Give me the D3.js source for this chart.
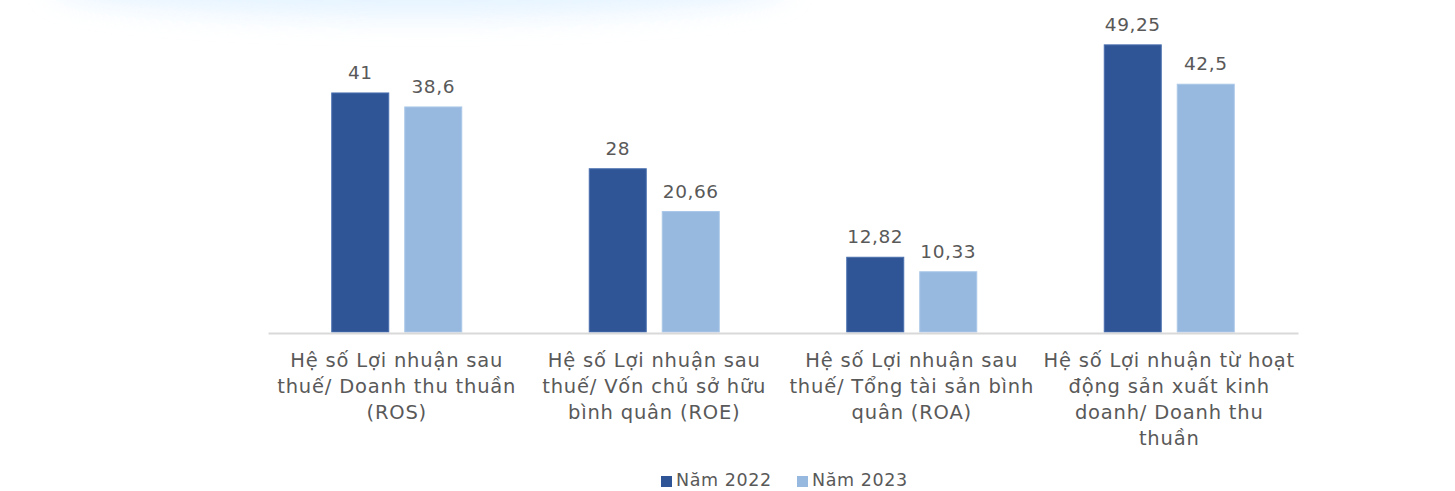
<!DOCTYPE html>
<html>
<head>
<meta charset="utf-8">
<script src="https://cdn.jsdelivr.net/npm/d3@7"></script>
<style>
  html, body { margin: 0; padding: 0; background: #fff; }
  svg { display: block; font-family: "DejaVu Sans", "Noto Sans", sans-serif; }
</style>
</head>
<body>
<svg id="chart" width="1455" height="491"></svg>
<script>
// Financial ratios (%), two reporting years
const categories = [
  ["Hệ số Lợi nhuận sau", "thuế/ Doanh thu thuần", "(ROS)"],
  ["Hệ số Lợi nhuận sau", "thuế/ Vốn chủ sở hữu", "bình quân (ROE)"],
  ["Hệ số Lợi nhuận sau", "thuế/ Tổng tài sản bình", "quân (ROA)"],
  ["Hệ số Lợi nhuận từ hoạt", "động sản xuất kinh", "doanh/ Doanh thu", "thuần"]
];
const seriesNames = ["Năm 2022", "Năm 2023"];
const values2022 = [41, 28, 12.82, 49.25];
const values2023 = [38.6, 20.66, 10.33, 42.5];
const valueLabels2022 = ["41", "28", "12,82", "49,25"];
const valueLabels2023 = ["38,6", "20,66", "10,33", "42,5"];
const colors = ["#2F5597", "#97B9E0"];

const svg = d3.select("#chart");
const textColor = "#595959";

// soft glow band across the top
const defs = svg.append("defs");
const blur = defs.append("filter").attr("id", "glow")
  .attr("x", "-20%").attr("y", "-200%").attr("width", "140%").attr("height", "500%");
blur.append("feGaussianBlur").attr("stdDeviation", 14);
svg.append("ellipse")
  .attr("cx", 420).attr("cy", -14).attr("rx", 370).attr("ry", 30)
  .attr("fill", "#dcefff").attr("opacity", 0.75)
  .attr("filter", "url(#glow)");

const plot = { left: 268, right: 1298, base: 332 };

const x0 = d3.scaleBand()
  .domain(d3.range(categories.length))
  .range([plot.left, plot.right]);

const barW = 57, gap = 16;
const y = d3.scaleLinear().domain([0, 50]).range([plot.base, 40.5]);

const series = [values2022, values2023];
const labels = [valueLabels2022, valueLabels2023];

const groups = svg.append("g").selectAll("g")
  .data(categories)
  .join("g")
  .attr("transform", (d, i) => `translate(${x0(i) + x0.bandwidth() / 2},0)`);

series.forEach((vals, s) => {
  const bx = s === 0 ? -(barW + gap / 2) : gap / 2;
  groups.append("rect")
    .attr("x", bx)
    .attr("y", (d, i) => y(vals[i]))
    .attr("width", barW)
    .attr("height", (d, i) => y(0) - y(vals[i]))
    .attr("fill", colors[s])
    .attr("stroke", s === 0 ? "#4a6fae" : "#aac7e8")
    .attr("stroke-width", 1);
  groups.append("text")
    .attr("x", bx + barW / 2)
    .attr("y", (d, i) => y(vals[i]) - 14)
    .attr("text-anchor", "middle")
    .attr("font-size", 18.5)
    .attr("letter-spacing", 0.6)
    .attr("fill", textColor)
    .text((d, i) => labels[s][i]);
});

// category axis
const axis = svg.append("g").attr("transform", `translate(0,${plot.base + 1})`)
  .call(d3.axisBottom(x0).tickSize(0).tickFormat(""));
axis.select(".domain").attr("stroke", "#d9d9d9").attr("stroke-width", 2);

groups.append("text")
  .attr("text-anchor", "middle")
  .attr("font-size", 19.5)
  .attr("letter-spacing", 0.8)
  .attr("fill", textColor)
  .selectAll("tspan")
  .data(d => d)
  .join("tspan")
  .attr("x", 0)
  .attr("y", (d, i) => 367 + i * 26)
  .text(d => d);

// legend
const legend = svg.append("g");
const legendX = [661, 797];
seriesNames.forEach((n, i) => {
  legend.append("rect")
    .attr("x", legendX[i]).attr("y", 476)
    .attr("width", 11).attr("height", 11)
    .attr("fill", colors[i]);
  legend.append("text")
    .attr("x", legendX[i] + 15).attr("y", 486)
    .attr("font-size", 17.5)
    .attr("letter-spacing", 0.6)
    .attr("fill", textColor)
    .text(n);
});
</script>
</body>
</html>
